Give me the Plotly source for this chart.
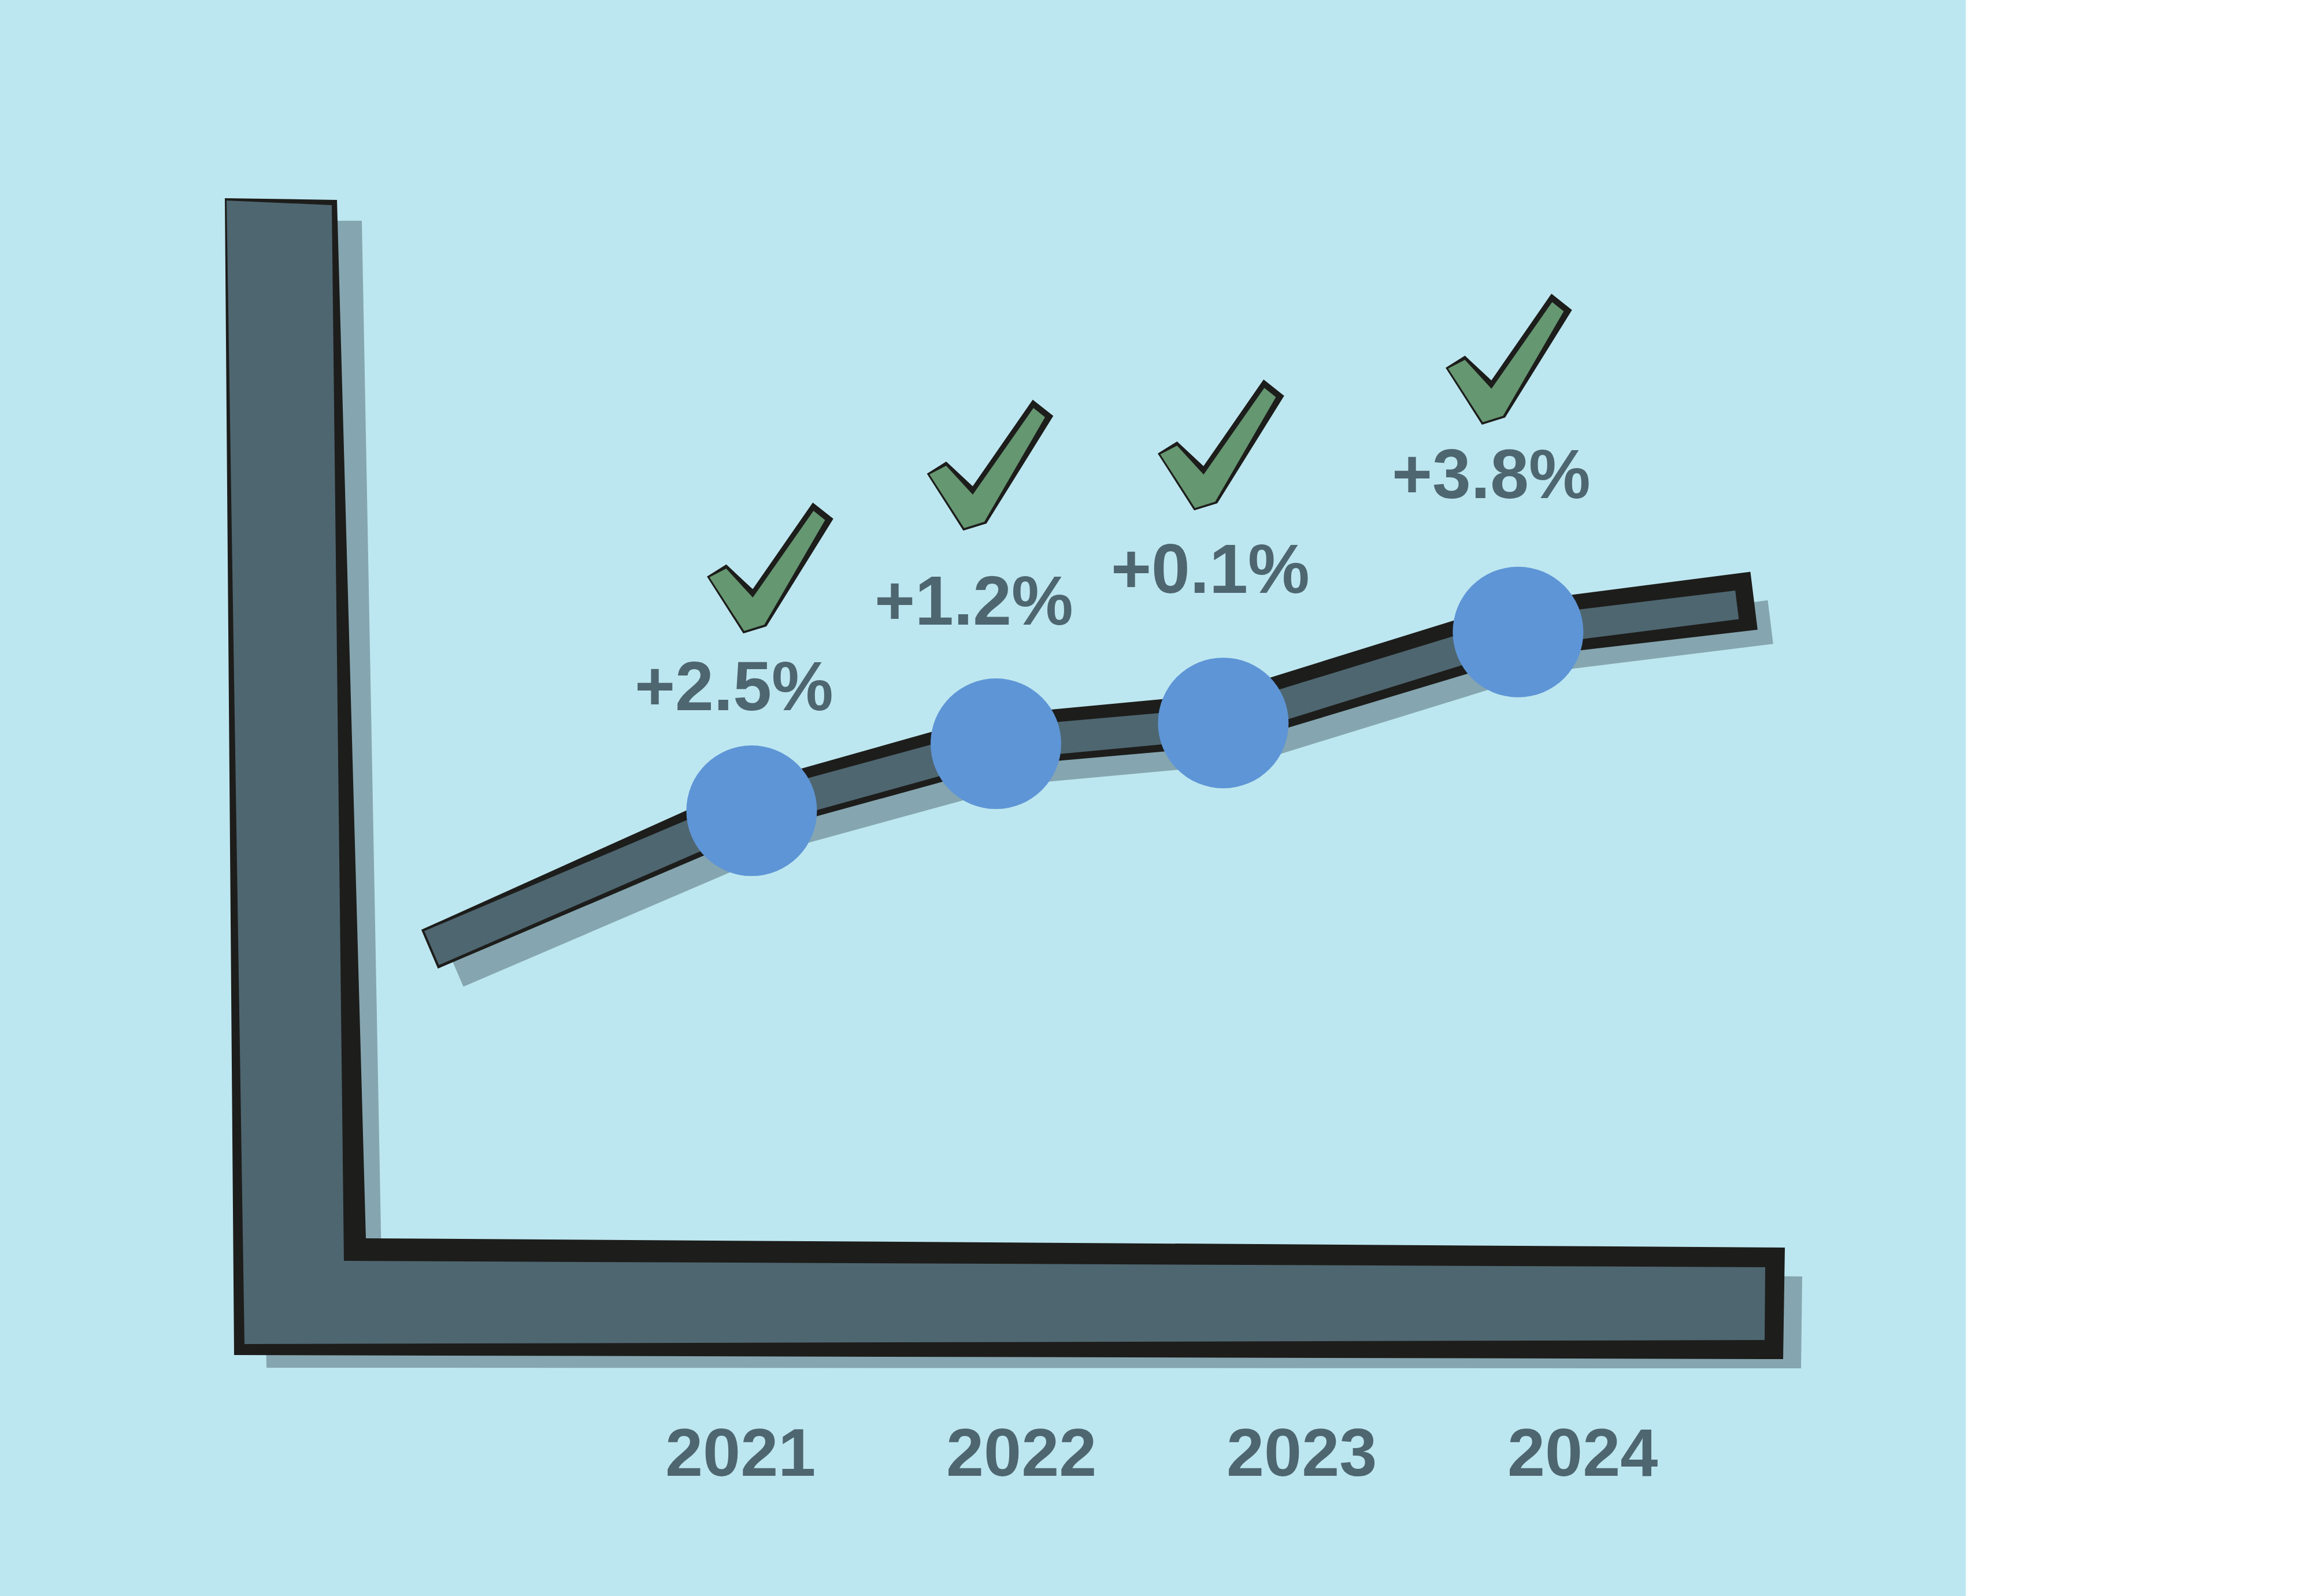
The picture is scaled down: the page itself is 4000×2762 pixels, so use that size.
import math
import plotly.graph_objects as go

# ---------------- data ----------------
years = [2021, 2022, 2023, 2024]
growth_labels = ["+2.5%", "+1.2%", "+0.1%", "+3.8%"]
# dots on the trend band (x in year units, y in index units)
point_x = [2021.04, 2021.91, 2022.72, 2023.77]
point_y = [49.2, 53.4, 54.7, 60.4]
# the band starts before the first dot and runs past the last one
band_start = (2019.90, 40.6)
band_end = (2024.55, 62.1)

# ---------------- layout / style constants ----------------
W, H = 4000, 2762
X0_YEAR, X0_PX, PX_PER_YEAR = 2021, 1281, 485.7
PX_PER_UNIT = H / 100.0

BG_BLUE = "#BDE7F0"
DARK = "#4E6670"
INK = "#1D1D1B"
SHADOW = "#85A6B0"
DOT = "#5E95D6"
GREEN = "#659771"

# band half-widths (pixels) at each band vertex: start, 4 dots, end
DARK_HALF = [32, 29, 28, 27, 26, 25]
INK_TOP = [36, 47, 50, 51, 52, 54]
INK_BOT = [37, 39, 39, 40, 44, 47]
SHADOW_HALF = [38] * 6
SHADOW_SHIFT = (40, 32)

# per-label offsets from their dot (pixels, +y = down)
label_off = [(-30, -216), (-38, -248), (-22, -267), (-46, -274)]
check_off = [(32, -420), (-10, -482), (-4, -481), (-16, -472)]
year_label_py = 2513

# check mark template (pixels relative to its centre)
CHECK_BLACK = [(-108, 15), (-76, -5), (-30, 38), (74, -112), (108, -85), (-7, 100), (-46, 112)]
CHECK_GREEN = [(-105, 16), (-76, 1), (-30, 51), (75, -99), (95, -83), (-10, 98), (-45, 109)]

# hand-drawn axis frame (pixel polygons)
AX_SHADOW = [(430, 382), (626, 382), (660, 2183), (3118, 2209), (3116, 2368), (461, 2367)]
AX_BLACK = [(389, 343), (583, 346), (633, 2143), (3088, 2159), (3085, 2352), (405, 2345)]
AX_FILL = [(392, 347), (574, 355), (595, 2182), (3054, 2193), (3053, 2319), (423, 2326)]


def to_px(x, y):
    return (X0_PX + (x - X0_YEAR) * PX_PER_YEAR, H - y * PX_PER_UNIT)


def to_data(px, py):
    return (X0_YEAR + (px - X0_PX) / PX_PER_YEAR, (H - py) / PX_PER_UNIT)


def paper_path(poly):
    parts = []
    for i, (px, py) in enumerate(poly):
        parts.append(("M" if i == 0 else "L") + f"{px / W:.5f},{1 - py / H:.5f}")
    return " ".join(parts) + " Z"


def band_polygon(xs, ys, top, bot, ext_start=0, ext_end=0, shift=(0, 0)):
    pts = [to_px(x, y) for x, y in zip(xs, ys)]
    n = len(pts)
    dirs = []
    for i in range(n - 1):
        ax, ay = pts[i]
        bx, by = pts[i + 1]
        L = math.hypot(bx - ax, by - ay)
        dirs.append(((bx - ax) / L, (by - ay) / L))
    pts[0] = (pts[0][0] - dirs[0][0] * ext_start, pts[0][1] - dirs[0][1] * ext_start)
    pts[-1] = (pts[-1][0] + dirs[-1][0] * ext_end, pts[-1][1] + dirs[-1][1] * ext_end)
    normals = [(uy, -ux) for ux, uy in dirs]  # "up" side in pixel space
    top_pts, bot_pts = [], []
    for i in range(n):
        if i == 0:
            nv, sc = normals[0], 1.0
        elif i == n - 1:
            nv, sc = normals[-1], 1.0
        else:
            a, b = normals[i - 1], normals[i]
            vx, vy = a[0] + b[0], a[1] + b[1]
            L = math.hypot(vx, vy)
            nv = (vx / L, vy / L)
            sc = 1.0 / (nv[0] * a[0] + nv[1] * a[1])
        px, py = pts[i]
        top_pts.append((px + nv[0] * top[i] * sc, py + nv[1] * top[i] * sc))
        bot_pts.append((px - nv[0] * bot[i] * sc, py - nv[1] * bot[i] * sc))
    poly = top_pts + bot_pts[::-1] + [top_pts[0]]
    out = [to_data(px + shift[0], py + shift[1]) for px, py in poly]
    return [p[0] for p in out], [p[1] for p in out]


line_x = [band_start[0]] + point_x + [band_end[0]]
line_y = [band_start[1]] + point_y + [band_end[1]]

fig = go.Figure()

for (top, bot, es, ee, sh, col) in [
    (SHADOW_HALF, SHADOW_HALF, 0, 18, SHADOW_SHIFT, SHADOW),
    (INK_TOP, INK_BOT, 4, 30, (0, 0), INK),
    (DARK_HALF, DARK_HALF, 0, 0, (0, 0), DARK),
]:
    px_, py_ = band_polygon(line_x, line_y, top, bot, es, ee, sh)
    fig.add_trace(go.Scatter(x=px_, y=py_, mode="lines", fill="toself", fillcolor=col,
                             line=dict(width=0, color=col), hoverinfo="skip"))

fig.add_trace(go.Scatter(x=point_x, y=point_y, mode="markers",
                         marker=dict(color=DOT, size=226, line=dict(width=0)),
                         hoverinfo="skip"))

shapes = [
    dict(type="rect", xref="paper", yref="paper", x0=0, x1=3401 / W, y0=0, y1=1,
         fillcolor=BG_BLUE, line=dict(width=0), layer="below"),
    dict(type="path", xref="paper", yref="paper", path=paper_path(AX_SHADOW),
         fillcolor=SHADOW, line=dict(width=0), layer="below"),
    dict(type="path", xref="paper", yref="paper", path=paper_path(AX_BLACK),
         fillcolor=INK, line=dict(width=0), layer="below"),
    dict(type="path", xref="paper", yref="paper", path=paper_path(AX_FILL),
         fillcolor=DARK, line=dict(width=0), layer="below"),
]


def check_path(cx, cy, tmpl):
    pcx, pcy = to_px(cx, cy)
    parts = []
    for i, (ox, oy) in enumerate(tmpl):
        x, y = to_data(pcx + ox, pcy + oy)
        parts.append(("M" if i == 0 else "L") + f"{x:.5f},{y:.5f}")
    return " ".join(parts) + " Z"


for i in range(len(years)):
    pcx, pcy = to_px(point_x[i], point_y[i])
    cx, cy = to_data(pcx + check_off[i][0], pcy + check_off[i][1])
    shapes.append(dict(type="path", xref="x", yref="y", path=check_path(cx, cy, CHECK_BLACK),
                       fillcolor=INK, line=dict(color=INK, width=2), layer="above"))
    shapes.append(dict(type="path", xref="x", yref="y", path=check_path(cx, cy, CHECK_GREEN),
                       fillcolor=GREEN, line=dict(width=0), layer="above"))

annotations = []
for i in range(len(years)):
    annotations.append(dict(
        x=point_x[i], y=point_y[i], xref="x", yref="y", showarrow=False,
        xshift=label_off[i][0], yshift=-label_off[i][1],
        xanchor="center", yanchor="middle", text=growth_labels[i],
        font=dict(family="Liberation Sans, Arial, sans-serif", size=120, color=DARK, weight="bold")))

year_y = to_data(0, year_label_py)[1]
for yr in years:
    annotations.append(dict(
        x=yr, y=year_y, xref="x", yref="y", showarrow=False,
        xanchor="center", yanchor="middle", text=str(yr),
        font=dict(family="Liberation Sans, Arial, sans-serif",
                  size=117, color=DARK, weight="bold")))

fig.update_layout(
    width=W, height=H,
    margin=dict(l=0, r=0, t=0, b=0),
    paper_bgcolor="white", plot_bgcolor="rgba(0,0,0,0)",
    showlegend=False, hovermode=False,
    xaxis=dict(range=[X0_YEAR - X0_PX / PX_PER_YEAR, X0_YEAR + (W - X0_PX) / PX_PER_YEAR],
               visible=False, fixedrange=True),
    yaxis=dict(range=[0, 100], visible=False, fixedrange=True),
    shapes=shapes, annotations=annotations,
)

fig.write_html("out.html", config={"displayModeBar": False},
               post_script="document.body.style.margin='0';document.body.style.overflow='hidden';")
